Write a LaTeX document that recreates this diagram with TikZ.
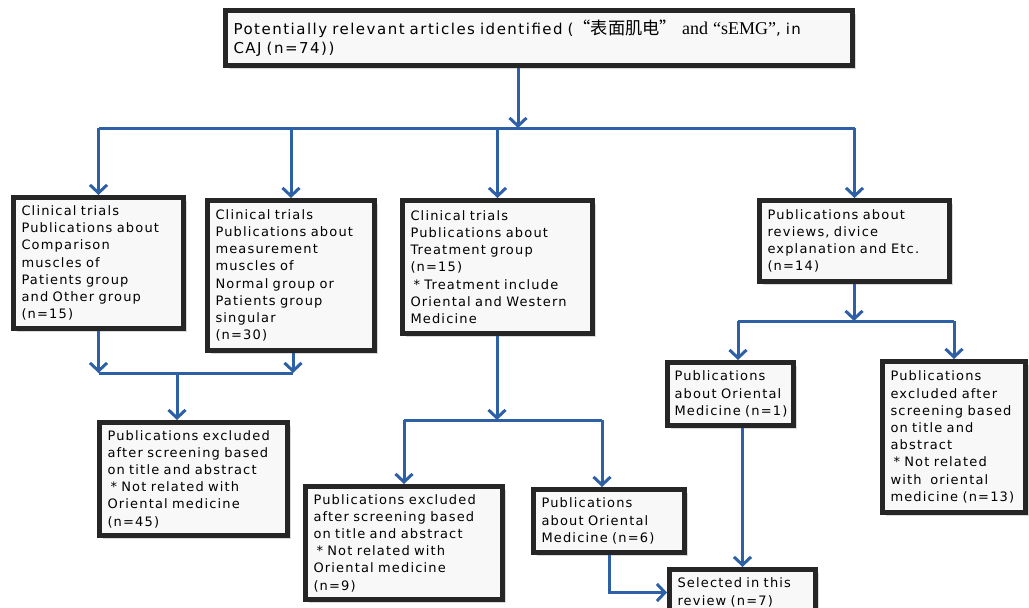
\documentclass[tikz,border=0pt]{standalone}
\usepackage{fontspec}
\setmainfont{DejaVu Sans}[LetterSpace=9]
\newfontfamily\topfont{DejaVu Sans}[LetterSpace=10]
\newfontfamily\cjk{Noto Sans CJK SC}[Scale=1.15]
\newfontfamily\serifpart{Liberation Serif}[Scale=1.2]
\usepackage{xcolor}
\usepackage{tikz}
\usetikzlibrary{arrows.meta, positioning, shadows, calc}
\definecolor{flowblue}{RGB}{46,96,166}
\definecolor{boxfill}{RGB}{248,248,248}
\newcommand{\note}{\hspace*{3pt}* }

\begin{document}
\begin{tikzpicture}[
    x=1pt, y=-1pt,
    block/.style={
        rectangle,
        draw=black!85,
        fill=boxfill,
        line width=5pt,
        anchor=north west,
        inner xsep=8pt,
        inner ysep=3pt,
        align=left,
        font=\fontsize{13}{17.2}\selectfont,
        drop shadow={shadow xshift=3pt, shadow yshift=-3pt, opacity=.25, fill=black!60}
    },
    line/.style={line width=3pt, color=flowblue},
    arrow/.style={line, -{Straight Barb[length=8pt, width=17pt]}}
]
\useasboundingbox (0,0) rectangle (1029,608);

\node[block, minimum width=627pt, minimum height=55pt, text width=611pt,
      font=\fontsize{15}{19}\topfont] (identified) at (223,8)
    {Potentially relevant articles identified ({\cjk “表面肌电”} {\serifpart and “sEMG”}, in\\CAJ (n=74))};

\node[block, minimum width=170pt, minimum height=131pt, text width=154pt] (compare) at (11,195)
    {Clinical trials\\Publications about\\Comparison\\muscles of\\Patients group\\and Other group\\(n=15)};
\node[block, minimum width=167pt, minimum height=150pt, text width=151pt] (measure) at (205,198)
    {Clinical trials\\Publications about\\measurement\\muscles of\\Normal group or\\Patients group\\singular\\(n=30)};
\node[block, minimum width=190pt, minimum height=133pt, text width=174pt] (treat) at (400,198)
    {Clinical trials\\Publications about\\Treatment group\\(n=15)\\\note Treatment include\\Oriental and Western\\Medicine};
\node[block, minimum width=190pt, minimum height=81pt, text width=174pt] (review) at (757,198)
    {Publications about\\reviews, divice\\explanation and Etc.\\(n=14)};

\node[block, minimum width=188pt, minimum height=113pt, text width=172pt] (exclA) at (97,420)
    {Publications excluded\\after screening based\\on title and abstract\\\note Not related with\\Oriental medicine\\(n=45)};
\node[block, minimum width=197pt, minimum height=113pt, text width=181pt] (exclB) at (303,484)
    {Publications excluded\\after screening based\\on title and abstract\\\note Not related with\\Oriental medicine\\(n=9)};
\node[block, minimum width=151pt, minimum height=63pt, text width=135pt] (oriental6) at (531,487)
    {Publications\\about Oriental\\Medicine (n=6)};
\node[block, minimum width=124pt, minimum height=63pt, inner xsep=7pt, text width=112pt] (oriental1) at (665,360)
    {Publications\\about Oriental\\Medicine (n=1)};
\node[block, minimum width=143pt, minimum height=151pt, text width=127pt] (exclC) at (880,359)
    {Publications\\excluded after\\screening based\\on title and\\abstract\\\note Not related\\with\ \ oriental\\medicine (n=13)};
\node[block, minimum width=146pt, minimum height=46pt, text width=130pt] (selected) at (667,567)
    {Selected in this\\review (n=7)};

% junctions
\coordinate (j1) at (518,128);
\coordinate (j2) at (177,373);
\coordinate (j3) at (497,420);
\coordinate (j4) at (854,321);
\coordinate (j5) at (738,321);

% first level
\draw[arrow] (identified.south -| j1) -- (j1);
\draw[line] (j1 -| compare.north) -- (j1 -| review.north);
\foreach \b in {compare, measure, treat, review}
    \draw[arrow] (j1 -| \b.north) -- (\b.north);

% clinical trials to exclusion
\draw[arrow] (compare.south) -- (j2 -| compare.south);
\draw[arrow] ($(measure.south)+(2,0)$) -- (j2 -| {$(measure.south)+(2,0)$});
\draw[line] (j2 -| compare.south) -- (j2 -| {$(measure.south)+(2,0)$});
\draw[arrow] (j2) -- (j2 |- exclA.north);

% treatment group
\draw[arrow] (treat.south -| j3) -- (j3);
\draw[line] (j3 -| exclB.north) -- (j3 -| 602,0);
\draw[arrow] (j3 -| exclB.north) -- (exclB.north);
\draw[arrow] (j3 -| 602,0) -- (oriental6.north -| 602,0);

% reviews
\draw[arrow] (review.south -| j4) -- (j4);
\draw[line] (j5) -- (j4 -| exclC.north);
\draw[arrow] (j5) -- (j5 |- oriental1.north);
\draw[arrow] (j4 -| exclC.north) -- (exclC.north);

% selected
\draw[arrow] (selected.north |- oriental1.south) -- (selected.north);
\draw[arrow] (oriental6.south) |- (selected.west);
\end{tikzpicture}
\end{document}
